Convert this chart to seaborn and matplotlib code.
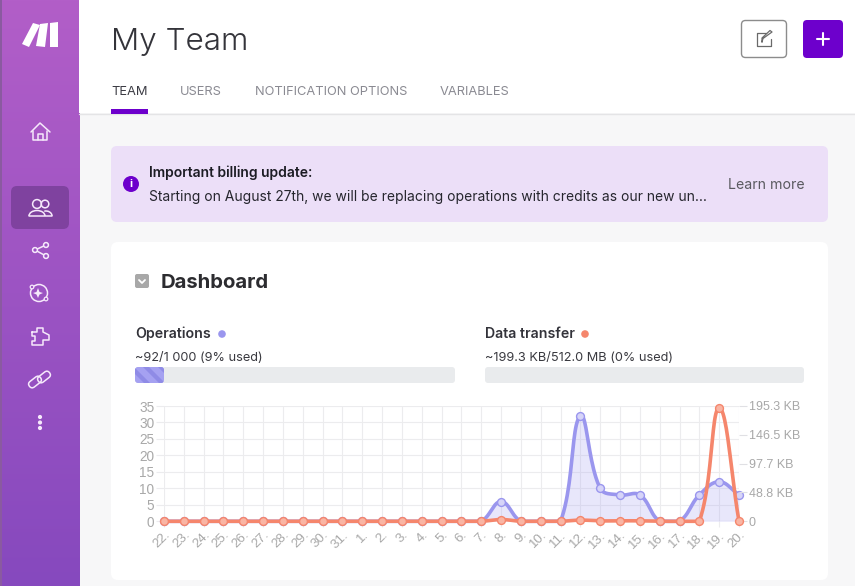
import numpy as np
import pandas as pd
import seaborn as sns
import matplotlib
matplotlib.use("Agg")
import matplotlib.pyplot as plt
from matplotlib.patches import FancyBboxPatch, Rectangle, Circle, Polygon, Arc

days = ["22.", "23.", "24.", "25.", "26.", "27.", "28.", "29.", "30.", "31.",
        "1.", "2.", "3.", "4.", "5.", "6.", "7.", "8.", "9.", "10.",
        "11.", "12.", "13.", "14.", "15.", "16.", "17.", "18.", "19.", "20."]
operations = [0, 0, 0, 0, 0, 0, 0, 0, 0, 0, 0, 0, 0, 0, 0, 0, 0,
              6, 0, 0, 0, 32, 10, 8, 8, 0, 0, 8, 12, 8]
transfer_kb = [0, 0, 0, 0, 0, 0, 0, 0, 0, 0, 0, 0, 0, 0, 0, 0, 0,
               3, 0, 0, 0, 2, 0.7, 0.8, 0.8, 0, 0, 0, 192, 0]
left_ticks = [0, 5, 10, 15, 20, 25, 30, 35]
right_ticks = [0, 48.8, 97.7, 146.5, 195.3]
right_labels = ["0", "48.8 KB", "97.7 KB", "146.5 KB", "195.3 KB"]
tabs = ["TEAM", "USERS", "NOTIFICATION OPTIONS", "VARIABLES"]

W, H = 855, 586
OPS = "#9a96ee"
TRF = "#f5866c"
PURPLE = "#6d00cc"

sns.set_theme(style="white")
plt.rcParams["font.family"] = ["Inter", "DejaVu Sans"]
fig = plt.figure(figsize=(W / 100, H / 100), dpi=100)
fig.patch.set_facecolor("#f7f7f8")

bg = fig.add_axes([0, 0, 1, 1], zorder=0)
bg.set_xlim(0, W)
bg.set_ylim(H, 0)
bg.axis("off")


def box(x0, y0, x1, y1, color, r=6, ec="none", lw=0, z=1):
    bg.add_patch(FancyBboxPatch((x0 + r, y0 + r), x1 - x0 - 2 * r, y1 - y0 - 2 * r,
                                boxstyle=f"round,pad={r},rounding_size={r}",
                                fc=color, ec=ec, lw=lw, zorder=z))


def label(x, y, s, size, color="#2f2f36", weight="normal", ha="left", **kw):
    bg.text(x, y, s, fontsize=size, color=color, fontweight=weight, ha=ha, va="center", **kw)


# sidebar
grad = np.linspace(0, 1, 256)[:, None, None]
top = np.array([0xb2, 0x5e, 0xc8])[None, None, :] / 255
bot = np.array([0x86, 0x49, 0xbe])[None, None, :] / 255
bg.imshow(top + (bot - top) * grad, extent=(0, 79, H, 0), aspect="auto", zorder=1)
bg.set_xlim(0, W)
bg.set_ylim(H, 0)
bg.add_patch(Rectangle((0, 0), 1.5, H, fc="#8a5aa0", ec="none", zorder=2))
box(11, 186, 69, 229, "#7f429f", r=6, z=2)

# logo
for pts in ([(22, 44), (33, 23), (40, 25), (29, 47)],
            [(36, 46), (40, 24), (48, 23), (45, 47)],
            [(50, 23), (58, 22), (58, 47), (50, 47)]):
    bg.add_patch(Polygon(pts, fc="white", ec="none", zorder=3))

ICON = dict(color="#f6e9fb", lw=1.1, zorder=3, solid_capstyle="round")
# home
bg.plot([31, 40, 50], [132, 123, 132], **ICON)
bg.plot([33, 33, 47, 47], [131, 140, 140, 131], **ICON)
bg.plot([38, 38, 43, 43], [140, 134, 134, 140], **ICON)
# users
bg.add_patch(Circle((37, 204), 4.4, fc="none", ec="#f6e9fb", lw=1.1, zorder=3))
bg.add_patch(Circle((45, 204), 3.8, fc="none", ec="#f6e9fb", lw=1.1, zorder=3))
bg.add_patch(Arc((37, 216), 16, 11, theta1=180, theta2=360, ec="#f6e9fb", lw=1.1, zorder=3))
bg.plot([29, 52], [216, 216], **ICON)
bg.add_patch(Arc((46, 216), 12, 10, theta1=250, theta2=360, ec="#f6e9fb", lw=1.1, zorder=3))
# share
bg.plot([46, 35, 46], [245, 250, 256], **ICON)
for cx, cy in ((46, 245), (35, 250), (46, 256)):
    bg.add_patch(Circle((cx, cy), 2.4, fc="#9c52c4", ec="#f6e9fb", lw=1.1, zorder=4))
# sparkle circle
bg.add_patch(Circle((39, 293), 8.5, fc="none", ec="#f6e9fb", lw=1.1, zorder=3))
bg.add_patch(Polygon([(38, 288), (39.5, 292), (43, 293), (39.5, 294.5), (38, 298),
                      (36.5, 294.5), (33, 293), (36.5, 292)], fc="#f6e9fb", ec="none", zorder=3))
bg.add_patch(Circle((32, 287), 1.8, fc="#9c52c4", ec="#f6e9fb", lw=0.9, zorder=4))
bg.add_patch(Circle((46, 299), 1.8, fc="#9c52c4", ec="#f6e9fb", lw=0.9, zorder=4))
# puzzle
bg.plot([32, 37, 37, 43, 43, 49, 49, 43, 43, 32, 32, 35, 35, 32, 32],
        [332, 332, 328, 328, 332, 335, 340, 340, 345, 345, 341, 341, 336, 336, 332], **ICON)
# link
for cx, cy in ((35, 382), (44, 377)):
    bg.add_patch(FancyBboxPatch((cx - 4, cy - 0.5), 8, 1, boxstyle="round,pad=3,rounding_size=3.5",
                                fc="none", ec="#f6e9fb", lw=1.1, zorder=3,
                                transform=matplotlib.transforms.Affine2D().rotate_deg_around(cx, cy, -38) + bg.transData))
# dots
for cy in (417, 422.5, 428):
    bg.add_patch(Circle((40, cy), 2.1, fc="#f6e9fb", ec="none", zorder=3))

# header
bg.add_patch(Rectangle((79, 0), W - 79, 113, fc="white", ec="none", zorder=1))
bg.plot([79, W], [113.5, 113.5], color="#e4e4e6", lw=1, zorder=2)
label(111, 41.5, "My Team", 22.6, color="#34343a", weight=300)
tab_x = [111, 180, 255, 440]
for i, (tx, t) in enumerate(zip(tab_x, tabs)):
    label(tx, 92.3, t, 9.25, color="#3c3c44" if i == 0 else "#8a8a92")
bg.add_patch(Rectangle((111, 109), 37, 5, fc=PURPLE, ec="none", zorder=3))

box(741.5, 20.5, 786.5, 57.5, "white", r=4, ec="#8c8c8c", lw=1, z=2)
bg.plot([766, 757, 757, 771, 771], [33, 33, 46, 46, 39], color="#6a6a6a", lw=0.9, zorder=3)
bg.plot([762, 763, 772, 770, 762, 762], [42, 38.5, 32, 30.5, 38, 42], color="#6a6a6a", lw=0.9, zorder=3)
box(803, 20, 843, 58, PURPLE, r=4, z=2)
bg.plot([823, 823], [33, 45], color="white", lw=1.5, zorder=3)
bg.plot([817, 829], [39, 39], color="white", lw=1.5, zorder=3)

# billing banner
box(111, 146, 828, 222, "#ecdff8", r=6)
bg.add_patch(Circle((131, 184), 8, fc=PURPLE, ec="none", zorder=3))
bg.text(131, 184, "i", color="white", fontsize=8, fontweight="bold", ha="center", va="center", zorder=4)
label(149, 172.7, "Important billing update:", 10, color="#1c1c24", weight=600, zorder=3)
label(149, 197, "Starting on August 27th, we will be replacing operations with credits as our new un…",
      10, color="#26262e", zorder=3)
label(728, 185, "Learn more", 10.2, color="#5a5a60", zorder=3)

# dashboard card
box(111, 242, 828, 580, "white", r=7)
box(135, 274, 149, 288, "#a8a8a8", r=2, z=2)
bg.plot([139, 142, 145], [280, 283, 280], color="white", lw=1.3, zorder=3)
label(161, 282.5, "Dashboard", 14.6, color="#2c2c30", weight=700, zorder=3)

label(135, 334, "Operations", 10.2, color="#33333a", weight=600, zorder=3)
bg.add_patch(Circle((222, 334), 3.8, fc=OPS, ec="none", zorder=3))
label(135, 358, "~92/1 000 (9% used)", 9.2, color="#3a3a40", zorder=3)
label(485, 334, "Data transfer", 10.2, color="#33333a", weight=600, zorder=3)
bg.add_patch(Circle((585, 334), 3.8, fc=TRF, ec="none", zorder=3))
label(485, 358, "~199.3 KB/512.0 MB (0% used)", 9.2, color="#3a3a40", zorder=3)

box(135, 367, 455, 383, "#e9ebed", r=3, z=2)
box(485, 367, 804, 383, "#e9ebed", r=3, z=2)
fill = FancyBboxPatch((138, 370), 23, 10, boxstyle="round,pad=3,rounding_size=3",
                      fc="#a5a1f1", ec="none", zorder=3)
bg.add_patch(fill)
for sx in (128, 143, 158):
    s = Polygon([(sx, 367), (sx + 6, 367), (sx + 22, 383), (sx + 16, 383)], fc="#8f8be6", ec="none", zorder=4)
    bg.add_patch(s)
    s.set_clip_path(fill)

# chart
x0, x1, ytop, ybot = 164, 739, 406, 521.3
ax = fig.add_axes([x0 / W, 1 - ybot / H, (x1 - x0) / W, (ybot - ytop) / H], zorder=2)
ax2 = ax.twinx()
ax2.set_zorder(3)
ax.patch.set_alpha(0)
ax2.patch.set_alpha(0)
xs = np.arange(len(days), dtype=float)
ax.set_xlim(0, len(days) - 1)
ax.set_ylim(0, 35)
ax2.set_ylim(0, 195.3)
SX = (x1 - x0) / (len(days) - 1)


def smooth(x, y, ymax, tension=0.4):
    """Cubic bezier path through the daily values, kept at or above the zero line."""
    sy = (ybot - ytop) / ymax
    px, py = np.asarray(x) * SX, np.asarray(y, dtype=float) * sy
    n = len(px)
    c_in, c_out = np.zeros((n, 2)), np.zeros((n, 2))
    for i in range(n):
        p = (px[max(i - 1, 0)], py[max(i - 1, 0)])
        c = (px[i], py[i])
        q = (px[min(i + 1, n - 1)], py[min(i + 1, n - 1)])
        d01 = np.hypot(c[0] - p[0], c[1] - p[1])
        d12 = np.hypot(q[0] - c[0], q[1] - c[1])
        tot = d01 + d12
        fa, fb = tension * d01 / tot, tension * d12 / tot
        c_in[i] = c[0] - fa * (q[0] - p[0]), c[1] - fa * (q[1] - p[1])
        c_out[i] = c[0] + fb * (q[0] - p[0]), c[1] + fb * (q[1] - p[1])
    t = np.linspace(0, 1, 24)[:, None]
    out = []
    for i in range(n - 1):
        a, b = np.array([px[i], py[i]]), np.array([px[i + 1], py[i + 1]])
        out.append((1 - t) ** 3 * a + 3 * (1 - t) ** 2 * t * c_out[i] + 3 * (1 - t) * t ** 2 * c_in[i + 1] + t ** 3 * b)
    out = np.vstack(out)
    return out[:, 0] / SX, np.maximum(out[:, 1], 0) / sy


ops_x, ops_y = smooth(xs, operations, 35)
trf_x, trf_y = smooth(xs, transfer_kb, 195.3)
ax.fill_between(ops_x, ops_y, 0, color=OPS, alpha=0.22, lw=0, zorder=2)
sns.lineplot(data=pd.DataFrame({"x": ops_x, "y": ops_y}), x="x", y="y", ax=ax, color=OPS,
             lw=2.6, sort=False, errorbar=None, estimator=None, clip_on=False, zorder=3)
sns.scatterplot(x=xs, y=operations, ax=ax, s=32, color="#d6d4f8", edgecolor=OPS,
                linewidth=1, clip_on=False, zorder=4)
sns.lineplot(data=pd.DataFrame({"x": trf_x, "y": trf_y}), x="x", y="y", ax=ax2, color=TRF,
             lw=2.6, sort=False, errorbar=None, estimator=None, clip_on=False, zorder=3)
sns.scatterplot(x=xs, y=transfer_kb, ax=ax2, s=32, color="#f9b5a4", edgecolor=TRF,
                linewidth=1, clip_on=False, zorder=4)

for a in (ax, ax2):
    a.set_xlabel("")
    a.set_ylabel("")
    for sp in a.spines.values():
        sp.set_visible(False)
ax.set_xticks(xs)
ax.set_xticklabels(days, rotation=45, ha="right", rotation_mode="anchor",
                   fontsize=9.6, color="#a8a8a8", family="Liberation Sans")
ax.set_yticks(left_ticks)
ax.set_yticklabels([str(v) for v in left_ticks], fontsize=9.8, color="#a8a8a8",
                   family="Liberation Sans", va="center_baseline")
ax2.set_yticks(right_ticks)
ax2.set_yticklabels(right_labels, fontsize=9, color="#a8a8a8",
                    family="Liberation Sans", va="center_baseline")
ax.grid(True, color="#ececee", lw=0.8)
ax.set_axisbelow(True)
ax.tick_params(axis="x", length=4, width=0.8, color="#ececee", pad=1.5, bottom=True)
ax.tick_params(axis="y", length=6, width=0.8, color="#ececee", pad=1, left=True)
ax2.tick_params(axis="y", length=6, width=0.8, color="#e0e0e4", pad=1, right=True)
ax.axhline(0, color="#c6c6cc", lw=0.8, zorder=1)

fig.savefig("out.png", dpi=100, facecolor=fig.get_facecolor())
